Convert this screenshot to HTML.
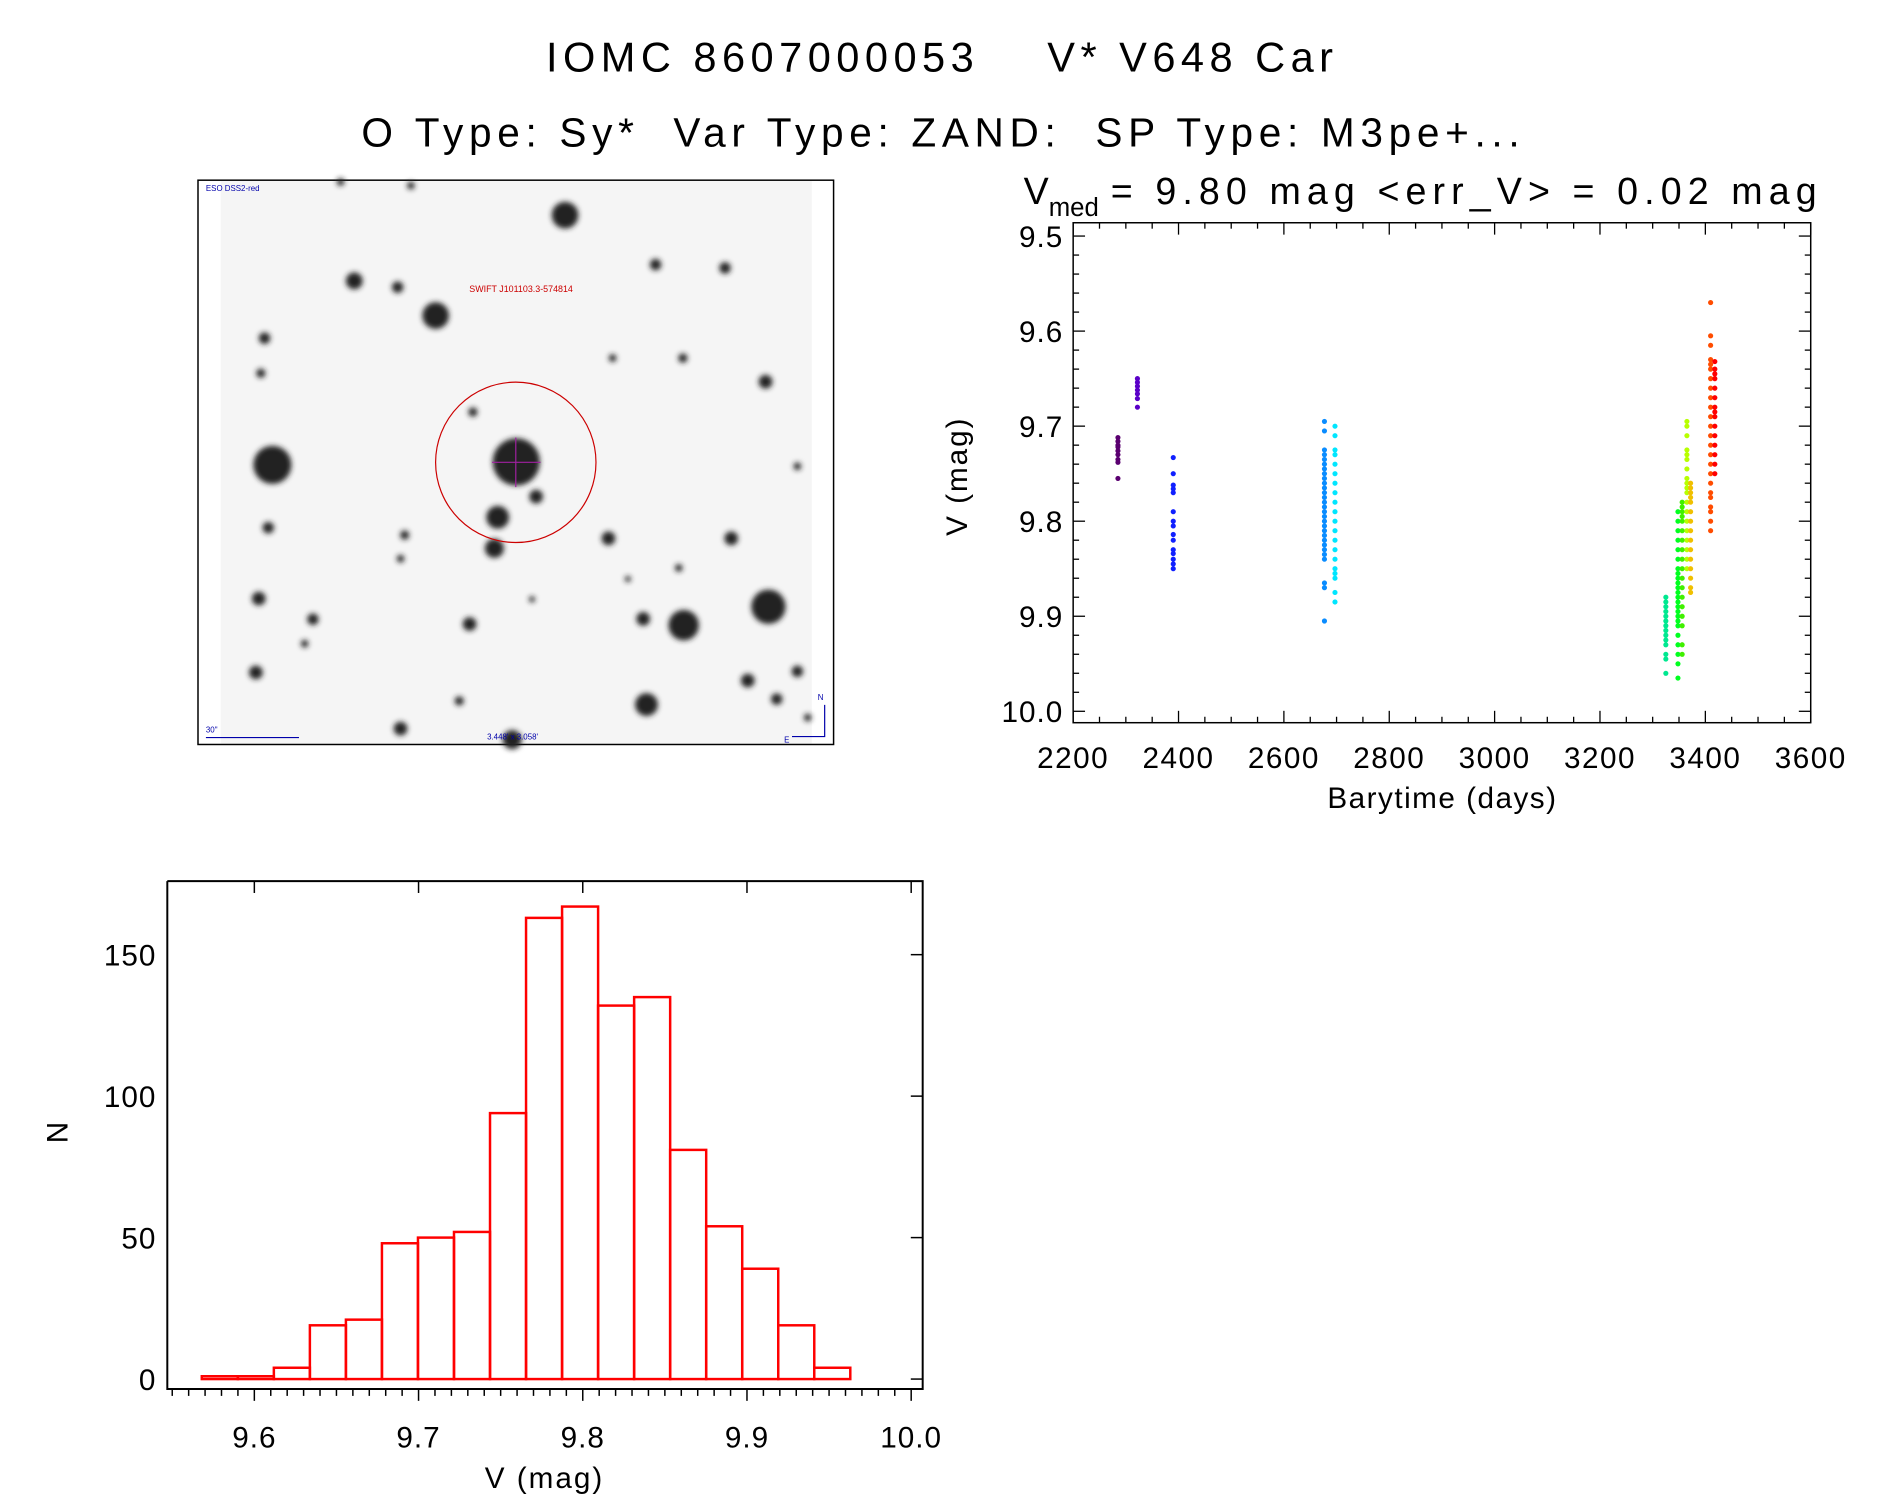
<!DOCTYPE html>
<html><head><meta charset="utf-8"><style>
html,body{margin:0;padding:0;background:#fff;}
svg{display:block;font-family:"Liberation Sans",sans-serif;}
</style></head><body>
<svg id="root" width="1889" height="1494" viewBox="0 0 1889 1494" xmlns="http://www.w3.org/2000/svg">
<defs><filter id="blur" x="-50%" y="-50%" width="200%" height="200%"><feGaussianBlur stdDeviation="2.6"/></filter>
<filter id="blur2"><feGaussianBlur stdDeviation="1.2"/></filter></defs>
<g transform="scale(0.99)">
<text x="949" y="72" font-size="42" text-anchor="middle" textLength="795" lengthAdjust="spacing" xml:space="preserve">IOMC 8607000053    V* V648 Car</text>
<text x="950" y="148" font-size="41" text-anchor="middle" textLength="1170" lengthAdjust="spacing" xml:space="preserve">O Type: Sy*  Var Type: ZAND:  SP Type: M3pe+...</text>

<g id="img">
 <rect x="200" y="182" width="642" height="570" fill="#fff" stroke="#000" stroke-width="1.5"/>
 <rect x="223" y="183" width="597" height="568" fill="#f5f5f5"/>
 <g id="stars" filter="url(#blur)"></g>
 <line x1="223" y1="466" x2="820" y2="466" stroke="#999" stroke-width="2" opacity="0.6" filter="url(#blur2)"/>
 <line x1="521" y1="360" x2="521" y2="580" stroke="#999" stroke-width="2" opacity="0.5" filter="url(#blur2)"/>
 <circle cx="521" cy="467" r="81" fill="none" stroke="#c00" stroke-width="1.2"/>
 <line x1="497" y1="467" x2="546" y2="467" stroke="#a020a0" stroke-width="1.2"/>
 <line x1="521" y1="442" x2="521" y2="492" stroke="#a020a0" stroke-width="1.2"/>
 <text x="474" y="295" font-size="9" fill="#c00">SWIFT J101103.3-574814</text>
 <text x="208" y="193" font-size="8" fill="#00a">ESO DSS2-red</text>
 <text x="208" y="740" font-size="8" fill="#00a">30"</text>
 <line x1="208" y1="745" x2="302" y2="745" stroke="#00a" stroke-width="1.2"/>
 <text x="492" y="747" font-size="8" fill="#00a">3.448' x 3.058'</text>
 <polyline points="800,744 833,744 833,712" fill="none" stroke="#00a" stroke-width="1.2"/>
 <text x="826" y="707" font-size="8" fill="#00a">N</text>
 <text x="792" y="750" font-size="8" fill="#00a">E</text>
</g>

<g id="lc"></g>
<g id="hist"></g>
</g>
</svg>
<script>
// ---------- sky image stars (zoom coords) ----------
const starX=[888,378,483,575,1107,1275,161,152,1373,770,180,725,717,818,665,170,500,993,1290,1380,1175,1077,657,147,278,140,1085,1330,1400,1450,490,760,632,1173,1003,490,1450,1163,258,1475,1040,808,345,515];
const starY=[100,278,295,372,234,243,433,528,551,768,776,918,1002,862,633,946,966,975,975,1160,1210,1193,1207,1138,1194,1338,1425,1360,1410,1335,1490,1520,1415,487,487,1030,780,1055,1260,1460,1085,1140,10,20];
const starR=[35,22,15,35,15,15,15,12,18,62,50,30,25,18,12,15,12,18,18,45,40,18,18,18,15,18,30,18,15,15,18,25,12,12,10,10,10,10,10,10,8,8,10,10];
const NS="http://www.w3.org/2000/svg";
function mk(tag,attrs,parent){const e=document.createElementNS(NS,tag);for(const k in attrs)e.setAttribute(k,attrs[k]);parent.appendChild(e);return e;}
const sg=document.getElementById('stars');
for(let i=0;i<starX.length;i++){
  const c=mk('circle',{cx:200+starX[i]/2.395,cy:180+starY[i]/2.68,r:starR[i]/2.6,fill:'#222'},sg);
  
  
}

// ---------- light curve data ----------
const lcTimes=[2285,2322,2390,2677,2697,3325,3348,3356,3365,3372,3410,3418];
const lcColors=['#5a0070','#5a00c8','#1020ff','#0a8cff','#00e6ff','#00e890','#00ff20','#40f000','#b8ff00','#f0c000','#ff4c00','#ff0000'];
const lcMags=[
 [9.712,9.716,9.72,9.722,9.726,9.73,9.735,9.738,9.755],
 [9.65,9.654,9.658,9.662,9.666,9.671,9.68],
 [9.733,9.75,9.762,9.766,9.77,9.79,9.80,9.805,9.814,9.82,9.83,9.834,9.84,9.845,9.85],
 [9.695,9.705,9.725,9.73,9.735,9.74,9.745,9.75,9.755,9.76,9.765,9.77,9.775,9.78,9.785,9.79,9.795,9.80,9.805,9.81,9.815,9.82,9.825,9.83,9.835,9.84,9.865,9.87,9.905],
 [9.70,9.71,9.725,9.73,9.74,9.75,9.76,9.77,9.78,9.79,9.80,9.81,9.82,9.83,9.84,9.85,9.855,9.86,9.875,9.885],
 [9.88,9.885,9.89,9.895,9.90,9.905,9.91,9.915,9.92,9.925,9.93,9.94,9.945,9.96],
 [9.79,9.80,9.81,9.82,9.83,9.84,9.85,9.855,9.86,9.865,9.87,9.875,9.88,9.885,9.89,9.895,9.90,9.905,9.91,9.92,9.93,9.94,9.95,9.965],
 [9.78,9.785,9.79,9.795,9.80,9.81,9.82,9.83,9.84,9.85,9.86,9.87,9.88,9.89,9.90,9.91,9.93,9.94],
 [9.695,9.70,9.71,9.725,9.73,9.735,9.745,9.755,9.76,9.765,9.77,9.78,9.79,9.80,9.81,9.82,9.83,9.84,9.85],
 [9.76,9.765,9.77,9.775,9.78,9.79,9.80,9.81,9.82,9.83,9.84,9.85,9.86,9.87,9.875],
 [9.57,9.605,9.615,9.63,9.635,9.64,9.65,9.66,9.67,9.68,9.69,9.70,9.71,9.72,9.73,9.74,9.75,9.76,9.77,9.775,9.785,9.79,9.80,9.81],
 [9.632,9.64,9.645,9.65,9.66,9.67,9.68,9.685,9.69,9.70,9.71,9.72,9.73,9.74,9.75]
];
const lcXTicks=[2200,2400,2600,2800,3000,3200,3400,3600];
const lcYTicks=[9.5,9.6,9.7,9.8,9.9,10.0];

const LC={l:1084,r:1829,t:225,b:730,x0:2200,x1:3600,y0:9.486,y1:10.012};
const lx=v=>LC.l+(v-LC.x0)/(LC.x1-LC.x0)*(LC.r-LC.l);
const ly=v=>LC.t+(v-LC.y0)/(LC.y1-LC.y0)*(LC.b-LC.t);
const lc=document.getElementById('lc');
let e=mk('rect',{x:LC.l,y:LC.t,width:LC.r-LC.l,height:LC.b-LC.t,fill:'none',stroke:'#000','stroke-width':1.5},lc);


for(let v=2200;v<=3600;v+=50){
  const len=(v%200===0)?12:6;const x=lx(v);
  mk('line',{x1:x,y1:LC.b,x2:x,y2:LC.b-len,stroke:'#000','stroke-width':1.3},lc);
  mk('line',{x1:x,y1:LC.t,x2:x,y2:LC.t+len,stroke:'#000','stroke-width':1.3},lc);
}
for(let k=0;k<=25;k++){
  const v=9.5+k*0.02;const len=(k%5===0)?12:6;const y=ly(v);
  mk('line',{x1:LC.l,y1:y,x2:LC.l+len,y2:y,stroke:'#000','stroke-width':1.3},lc);
  mk('line',{x1:LC.r,y1:y,x2:LC.r-len,y2:y,stroke:'#000','stroke-width':1.3},lc);
}
lcXTicks.forEach(v=>{const t=mk('text',{x:lx(v),y:776,'font-size':30,'text-anchor':'middle','letter-spacing':1.5},lc);t.textContent=v;
 
 });
lcYTicks.forEach(v=>{const t=mk('text',{x:1074,y:ly(v)+11,'font-size':30,'text-anchor':'end','letter-spacing':1},lc);t.textContent=v.toFixed(1);
 
 });
e=mk('text',{x:1457,y:816,'font-size':30,'text-anchor':'middle','letter-spacing':1.5},lc);e.textContent='Barytime (days)';


e=mk('text',{x:0,y:0,'font-size':30,'text-anchor':'middle','letter-spacing':2,transform:'translate(977,481) rotate(-90)'},lc);e.textContent='V (mag)';


e=mk('text',{x:1034,y:206,'font-size':38},lc);
e.innerHTML='V<tspan font-size="26" dy="12">med</tspan>';


e=mk('text',{x:1122,y:206,'font-size':38,textLength:713,lengthAdjust:'spacing'},lc);
e.textContent='= 9.80 mag <err_V> = 0.02 mag';


lcTimes.forEach((t,i)=>{
  lcMags[i].forEach(m=>{
    const c=mk('circle',{cx:lx(t),cy:ly(m),r:2.6,fill:lcColors[i]},lc);
    
    
  });
});

// ---------- histogram data ----------
const binStart=9.568;
const binWidth=0.02194;
const counts=[1,1,4,19,21,48,50,52,94,163,167,132,135,81,54,39,19,4];
const hXTicks=[9.6,9.7,9.8,9.9,10.0];
const hYTicks=[0,50,100,150];
const H={l:169,r:932,t:890,b:1403,x0:9.547,x1:10.007,y0:-3.5,y1:176};
const hx=v=>H.l+(v-H.x0)/(H.x1-H.x0)*(H.r-H.l);
const hy=v=>H.b-(v-H.y0)/(H.y1-H.y0)*(H.b-H.t);
const hg=document.getElementById('hist');
counts.forEach((c,i)=>{
  const a=hx(binStart+i*binWidth),b=hx(binStart+(i+1)*binWidth);
  const r=mk('rect',{x:a,y:hy(c),width:b-a,height:hy(0)-hy(c),fill:'none',stroke:'#f00','stroke-width':2.5},hg);
  
  
});
e=mk('polyline',{points:`${H.l},${H.t} ${H.l},${H.b} ${H.r},${H.b} ${H.r},${H.t} ${H.l},${H.t}`,fill:'none',stroke:'#000','stroke-width':2},hg);


for(let k=0;k<=46;k++){
  const v=9.55+k*0.01;if(v>10.005)break;const x=hx(v);const major=(Math.round(v*100)%10===0);
  mk('line',{x1:x,y1:H.b,x2:x,y2:H.b+(major?12:7),stroke:'#000','stroke-width':1.5},hg);
  if(major)mk('line',{x1:x,y1:H.t,x2:x,y2:H.t+12,stroke:'#000','stroke-width':1.5},hg);
}
hYTicks.forEach(v=>{
  mk('line',{x1:H.r-12,y1:hy(v),x2:H.r,y2:hy(v),stroke:'#000','stroke-width':1.5},hg);
  const t=mk('text',{x:158,y:hy(v)+11,'font-size':30,'text-anchor':'end','letter-spacing':1},hg);t.textContent=v;
  
  
});
hXTicks.forEach(v=>{const t=mk('text',{x:hx(v),y:1462,'font-size':30,'text-anchor':'middle','letter-spacing':1},hg);t.textContent=v.toFixed(1);
 
 });
e=mk('text',{x:550,y:1503,'font-size':30,'text-anchor':'middle','letter-spacing':2},hg);e.textContent='V (mag)';


e=mk('text',{x:0,y:0,'font-size':30,'text-anchor':'middle',transform:'translate(68,1144) rotate(-90)'},hg);e.textContent='N';


</script>
</body></html>
